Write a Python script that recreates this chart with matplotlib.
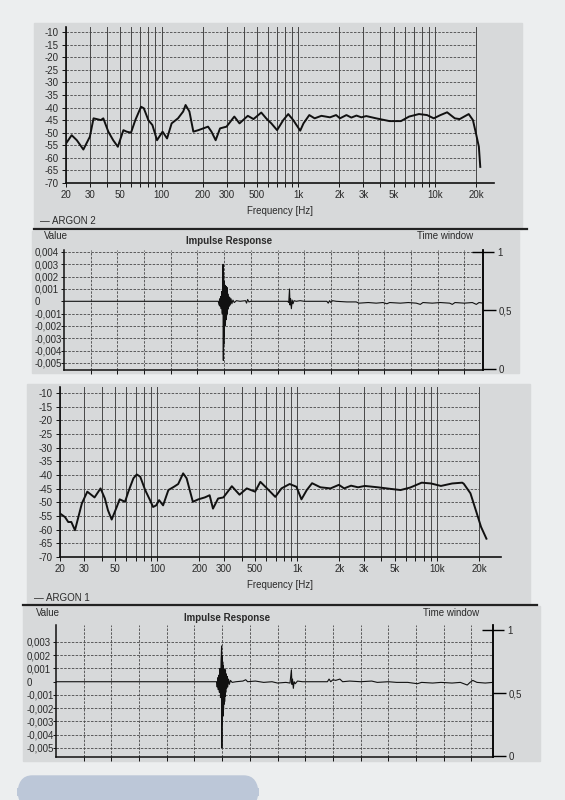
import matplotlib.pyplot as plt
from matplotlib.patches import Rectangle, FancyBboxPatch
from matplotlib.ticker import NullFormatter

plt.rcParams['font.family'] = ['Liberation Sans', 'DejaVu Sans']

# ---- ARGON 2 : frequency response ----
freq2 = [20, 22, 24, 26.8, 29.9, 31.8, 36, 37.5, 40.8, 44.3, 47.9, 52.6, 55.6, 59.8,
         64.3, 70.8, 74.2, 80.1, 85.8, 92.7, 101.8, 109.8, 118.6, 132, 144, 150, 160,
         171, 186, 202, 219, 232, 249, 268, 299, 341, 372, 428, 471, 537, 583, 636,
         701, 778, 846, 920, 1035, 1094, 1206, 1320, 1479, 1710, 1895, 2022, 2255,
         2450, 2670, 2900, 3150, 3720, 4660, 5650, 6480, 7650, 8770, 9820, 11000,
         12300, 14000, 15200, 17700, 19000, 20000, 21000, 21500]
spl2 = [-54.3, -51.0, -53.0, -56.7, -51.6, -44.3, -45.0, -44.3, -49.6, -53.0, -55.6,
        -49.0, -49.6, -50.0, -45.0, -39.7, -40.3, -45.0, -47.0, -53.0, -49.6, -52.3,
        -46.3, -44.3, -41.6, -39.0, -41.6, -49.6, -49.0, -48.3, -47.6, -49.6, -53.0,
        -48.3, -47.6, -43.6, -46.3, -43.3, -44.6, -42.0, -44.3, -46.3, -49.0, -45.0,
        -42.6, -45.0, -49.2, -46.3, -43.0, -44.3, -43.3, -43.9, -43.0, -44.3, -43.0,
        -44.0, -43.2, -43.9, -43.4, -44.3, -45.4, -45.4, -43.6, -42.6, -43.0, -44.3,
        -43.0, -41.9, -44.3, -44.6, -42.6, -45.0, -50.3, -55.6, -63.6]

# ---- ARGON 1 : frequency response ----
freq1 = [20.2, 21.9, 23.1, 24.3, 25.8, 28.9, 31.6, 35.6, 39.3, 42.2, 44.4, 47.2, 51.3,
         53.8, 58.8, 62.1, 67.5, 71.3, 75.5, 81.9, 88.7, 93.3, 98.2, 103, 110, 120,
         131.6, 141, 153, 162, 179.5, 196.6, 218.6, 236.6, 250, 272, 296.7, 341, 386.7,
         436, 500, 545, 608, 697, 772, 883, 987, 1072, 1170, 1277, 1465, 1730, 1985,
         2165, 2425, 2720, 3040, 3770, 4690, 5480, 6410, 7760, 9050, 10640, 12800,
         15100, 15500, 17300, 18900, 20600, 22500]
spl1 = [-54.1, -55.4, -57.2, -57.2, -60.2, -50.4, -46.1, -48.2, -44.9, -48.6, -52.9,
        -56.3, -51.7, -48.9, -49.8, -46.1, -41.2, -39.8, -40.6, -45.5, -49.2, -51.7,
        -51.1, -49.2, -51.1, -45.5, -44.3, -43.3, -39.4, -41.2, -49.8, -48.9, -48.2,
        -47.4, -52.3, -48.6, -48.2, -44.1, -47.2, -44.9, -46.1, -42.5, -44.9, -48.0,
        -44.9, -43.3, -44.3, -48.9, -45.5, -43.0, -44.5, -44.9, -43.6, -44.9, -43.9,
        -44.5, -44.0, -44.5, -45.1, -45.5, -44.6, -42.8, -43.1, -44.0, -43.1, -42.8,
        -43.2, -46.7, -52.9, -59.0, -63.3]

# ---- impulse responses (time in grid divisions, value) ----
imp2_points = [
    (0.00, 0.0), (5.78, 0.0), (5.81, -0.0003), (5.83, 0.0002), (5.85, -0.0004),
    (5.87, 0.0004), (5.89, -0.0006), (5.91, 0.0008), (5.93, -0.0010), (5.95, 0.0012),
    (5.96, 0.0030), (5.97, -0.0048), (5.98, 0.0022), (5.99, -0.0035), (6.00, 0.0016),
    (6.01, -0.0028), (6.02, 0.0011), (6.03, -0.0020), (6.04, 0.0013), (6.05, -0.0017),
    (6.06, 0.0009), (6.07, -0.0015), (6.08, 0.0012), (6.09, -0.0012), (6.10, 0.0008),
    (6.11, -0.0010), (6.12, 0.0011), (6.13, -0.0007), (6.14, 0.0006), (6.15, -0.0006),
    (6.17, 0.0004), (6.19, -0.0004), (6.21, 0.0003), (6.23, -0.0003), (6.26, 0.0002),
    (6.29, -0.0002), (6.33, 0.0001), (6.38, -0.0001), (6.46, 0.00005), (6.60, 0.0),
    (6.80, 0.00005), (6.84, -0.00015), (6.88, 0.00015), (6.93, -0.00005), (7.00, 0.0),
    (8.38, 0.0), (8.42, -0.0001), (8.45, 0.0010), (8.47, -0.0003), (8.49, 0.0002),
    (8.52, -0.0006), (8.55, 0.0001), (8.58, -0.0002), (8.62, 0.00005), (8.70, 0.0),
    (8.85, 0.00005), (9.00, 0.0), (9.85, 0.0), (9.90, -0.00015), (9.95, 0.00005),
    (10.00, -0.0001), (10.06, 0.00005), (10.20, 0.0), (10.60, -0.00005), (10.95, -0.00005),
    (11.05, -0.00015), (11.40, -0.0001), (11.70, -0.00015), (11.95, -0.0001), (12.10, -0.0002),
    (12.20, -0.0001), (12.60, -0.00015), (12.90, -0.0001), (13.20, -0.00015), (13.35, -0.00025),
    (13.45, -0.0001), (13.80, -0.00015), (14.10, -0.0001), (14.45, -0.00015), (14.55, -0.00025),
    (14.65, -0.0001), (15.00, -0.00015), (15.30, -0.0001), (15.45, -0.00025), (15.55, -0.0001),
    (15.70, -0.00015)]

imp1_points = [
    (0.00, 0.0), (5.80, 0.0), (5.82, -0.0004), (5.84, 0.0003), (5.86, -0.0006),
    (5.88, 0.0005), (5.90, -0.0008), (5.92, 0.0010), (5.94, -0.0012), (5.96, 0.0015),
    (5.98, 0.0027), (5.99, -0.0050), (6.00, 0.0020), (6.01, -0.0032), (6.02, 0.0015),
    (6.03, -0.0026), (6.04, 0.0012), (6.05, -0.0021), (6.06, 0.0010), (6.07, -0.0017),
    (6.08, 0.0009), (6.09, -0.0015), (6.10, 0.0008), (6.11, -0.0011), (6.12, 0.0009),
    (6.13, -0.0008), (6.14, 0.0006), (6.16, -0.0005), (6.18, 0.0004), (6.20, -0.0004),
    (6.23, 0.0002), (6.26, -0.0002), (6.30, 0.0001), (6.36, -0.00005), (6.50, 0.0),
    (6.75, 0.00005), (6.85, 0.00015), (6.92, 0.0), (7.20, 0.00005), (7.50, -0.00005),
    (7.80, 0.0), (8.00, -0.0001), (8.30, -0.00005), (8.45, -0.0001), (8.50, 0.0009),
    (8.52, -0.0002), (8.54, 0.0002), (8.57, -0.0005), (8.60, 0.0), (8.64, -0.00015),
    (8.72, 0.00005), (8.90, 0.0), (9.80, 0.0), (9.86, 0.0002), (9.92, 0.0),
    (10.00, 0.00015), (10.10, 0.0001), (10.25, 0.0002), (10.35, 0.0), (10.60, 0.00005),
    (11.00, 0.0), (11.40, 0.00005), (11.60, -0.00005), (12.00, 0.0), (12.30, -0.00005),
    (12.70, -0.00005), (13.05, -0.00015), (13.20, -0.00005), (13.60, -0.0001), (13.90, -0.00005),
    (14.30, -0.0001), (14.60, -0.00005), (14.85, -0.00025), (14.95, -0.00005), (15.05, 0.0001),
    (15.20, -0.00005), (15.50, -0.0001), (15.78, -0.00005)]

imp2_t, imp2_v = zip(*imp2_points)
imp1_t, imp1_v = zip(*imp1_points)

# ---- axis tick values ----
freq_ticks = [20, 30, 50, 100, 200, 300, 500, 1000, 2000, 3000, 5000, 10000, 20000]
freq_labels = ['20', '30', '50', '100', '200', '300', '500', '1k', '2k', '3k', '5k', '10k', '20k']
freq_grid = [20, 30, 40, 50, 60, 70, 80, 90, 100, 200, 300, 400, 500, 600, 700, 800, 900,
             1000, 2000, 3000, 4000, 5000, 6000, 7000, 8000, 9000, 10000, 20000]
db_ticks = [-10, -15, -20, -25, -30, -35, -40, -45, -50, -55, -60, -65, -70]
imp2_ticks = [0.004, 0.003, 0.002, 0.001, 0.0, -0.001, -0.002, -0.003, -0.004, -0.005]
imp1_ticks = [0.003, 0.002, 0.001, 0.0, -0.001, -0.002, -0.003, -0.004, -0.005]
time_grid = list(range(1, 16))

W, H = 565, 800
PAPER = '#eceeef'
PANEL = '#d7d9da'
INK = '#111111'
GRIDC = '#474747'
TXT = '#2a2a2a'


def rect(x0, y0, x1, y1):
    # pixel box -> figure fraction
    return [x0 / W, 1 - y1 / H, (x1 - x0) / W, (y1 - y0) / H]


def comma(v):
    return '0' if v == 0 else f"{v:.3f}".replace('.', ',')


fig = plt.figure(figsize=(W / 100, H / 100), dpi=100, facecolor=PAPER)


def box(x0, y0, x1, y1, color=PANEL):
    fig.patches.append(Rectangle((x0 / W, 1 - y1 / H), (x1 - x0) / W, (y1 - y0) / H,
                                 transform=fig.transFigure, color=color, zorder=-5))


def fig_text(x, y, s, **kw):
    kw.setdefault('fontsize', 7)
    kw.setdefault('color', TXT)
    fig.text(x / W, 1 - y / H, s, va='center', **kw)


def freq_panel(r, freq, spl, xmax, ytop):
    ax = fig.add_axes(r)
    ax.set_facecolor('none')
    ax.set_xscale('log')
    ax.set_xlim(20, xmax)
    ax.set_ylim(-70, ytop)
    for f in freq_grid:
        ax.axvline(f, color=GRIDC, lw=0.7, zorder=1)
    for d in db_ticks[:-1]:
        ax.hlines(d, 20, 20000, colors=GRIDC, linestyles=(0, (3, 1.6)), lw=0.6, zorder=1)
    ax.plot(freq, spl, color=INK, lw=1.4, zorder=3, solid_joinstyle='round')
    for s in ['top', 'right']:
        ax.spines[s].set_visible(False)
    for s in ['left', 'bottom']:
        ax.spines[s].set_linewidth(1.2)
        ax.spines[s].set_color(INK)
    ax.set_xticks(freq_ticks)
    ax.set_xticklabels(freq_labels)
    ax.set_xticks([f for f in freq_grid if f not in freq_ticks], minor=True)
    ax.xaxis.set_minor_formatter(NullFormatter())
    ax.set_yticks(db_ticks)
    ax.set_yticklabels([str(d) for d in db_ticks])
    ax.tick_params(axis='both', which='both', direction='out', length=3, width=0.7,
                   labelsize=7, labelcolor=TXT, color=INK, pad=2)
    return ax


def imp_panel(r, t, v, xmax, ylim, yticks, twlim):
    ax = fig.add_axes(r)
    ax.set_facecolor('none')
    ax.set_xlim(0, xmax)
    ax.set_ylim(*ylim)
    for g in time_grid:
        ax.axvline(g, color=GRIDC, lw=0.6, ls=(0, (3, 1.6)), zorder=1)
    for y in yticks:
        if y != 0:
            ax.axhline(y, color=GRIDC, lw=0.6, ls=(0, (3, 1.6)), zorder=1)
    ax.plot(t, v, color=INK, lw=0.8, zorder=3)
    ax.spines['top'].set_visible(False)
    for s in ['left', 'bottom', 'right']:
        ax.spines[s].set_linewidth(1.1)
        ax.spines[s].set_color(INK)
    ax.set_xticks(time_grid)
    ax.set_xticklabels([])
    ax.set_yticks(yticks)
    ax.set_yticklabels([comma(y) for y in yticks])
    for lab in ax.get_yticklabels():
        lab.set_horizontalalignment('left')
    ax.tick_params(axis='x', direction='out', length=3, width=0.7, color=INK)
    ax.tick_params(axis='y', direction='out', length=2, width=0.7, color=INK,
                   labelsize=7, labelcolor=TXT, pad=19)

    tw = ax.twinx()
    tw.set_ylim(*twlim)
    for s in ['top', 'left', 'bottom']:
        tw.spines[s].set_visible(False)
    tw.spines['right'].set_linewidth(1.1)
    tw.set_yticks([0, 0.5])
    tw.set_yticklabels(['0', '0,5'])
    tw.set_yticks([1], minor=True)
    tw.set_yticklabels(['1'], minor=True)
    tw.tick_params(axis='y', which='major', direction='out', length=9, width=1.0,
                   labelsize=7, labelcolor=TXT, pad=2)
    tw.tick_params(axis='y', which='minor', direction='inout', length=16, width=1.0,
                   labelsize=7, labelcolor=TXT, pad=2)
    return ax


# ---- paper / panel backgrounds ----
box(34, 23, 522, 229)
box(32, 231, 519, 373)
box(27, 384, 530, 604)
box(23, 606, 540, 761)
fig.patches.append(FancyBboxPatch((18 / W, -0.01), 240 / W, 32 / H,
                                  boxstyle='round,pad=0.0,rounding_size=0.025',
                                  transform=fig.transFigure, color='#bcc7d8', zorder=-4))

# separator lines under the legend labels
for y, x0, x1 in [(228.5, 34, 527), (605, 23, 537)]:
    fig.add_artist(plt.Line2D([x0 / W, x1 / W], [1 - y / H, 1 - y / H],
                              transform=fig.transFigure, color='#222222', lw=1.6))

# ---- ARGON 2 ----
ax1 = freq_panel(rect(66, 27, 494, 183), freq2, spl2, 27100, -8.0)
ax1.set_xlabel('Frequency [Hz]', fontsize=7, color=TXT, labelpad=4)
fig_text(40, 221, '\u2014 ARGON 2')

imp_panel(rect(64, 250, 483, 370), imp2_t, imp2_v, 15.7,
          (-0.00557, 0.00416), imp2_ticks, (-0.0085, 1.017))
fig_text(44, 236, 'Value')
fig_text(229, 241, 'Impulse Response', ha='center', fontweight='bold')
fig_text(445, 236, 'Time window', ha='center')

# ---- ARGON 1 ----
ax3 = freq_panel(rect(59.5, 387, 501, 557), freq1, spl1, 28600, -7.8)
ax3.set_xlabel('Frequency [Hz]', fontsize=7, color=TXT, labelpad=4)
fig_text(34, 598, '\u2014 ARGON 1')

imp_panel(rect(56, 625, 493, 757), imp1_t, imp1_v, 15.78,
          (-0.00568, 0.00428), imp1_ticks, (-0.008, 1.04))
fig_text(36, 613, 'Value')
fig_text(227, 618, 'Impulse Response', ha='center', fontweight='bold')
fig_text(451, 613, 'Time window', ha='center')

fig.savefig('out.png', dpi=100, facecolor=fig.get_facecolor())
